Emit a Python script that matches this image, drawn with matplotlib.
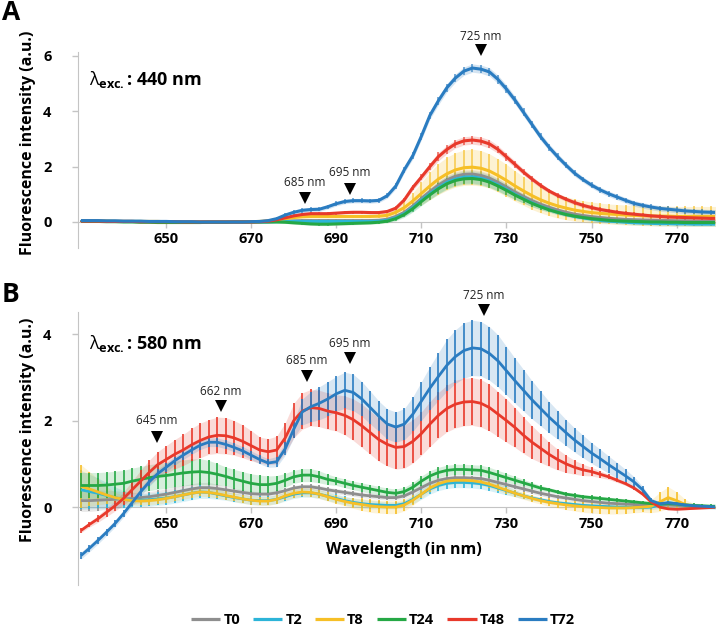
import numpy as np
import matplotlib
matplotlib.use("Agg")
import matplotlib.pyplot as plt

plt.rcParams['font.family'] = ['Open Sans', 'DejaVu Sans']
plt.rcParams['mathtext.fontset'] = 'custom'
plt.rcParams['mathtext.rm'] = 'Open Sans'
plt.rcParams['mathtext.bf'] = 'Open Sans:bold'
plt.rcParams['mathtext.it'] = 'Open Sans'

wavelength = np.arange(630, 781, 2)
series = ['T0', 'T2', 'T8', 'T24', 'T48', 'T72']
colors = {'T0': '#8e8e8e', 'T2': '#2cb4d8', 'T8': '#f6bf26', 'T24': '#25a845',
          'T48': '#e8392b', 'T72': '#2a7cc1'}

# ---------------- Panel A (excitation 440 nm) ----------------
A_T72 = [0.05,0.05,0.05,0.04,0.04,0.03,0.03,0.03,0.02,0.02,
         0.02,0.01,0.01,0.01,0.00,0.00,0.00,0.00,0.00,0.00,
         0.01,0.02,0.05,0.12,0.25,0.35,0.42,0.45,0.46,0.55,
         0.66,0.74,0.77,0.77,0.76,0.78,0.95,1.30,1.89,2.40,
         3.10,3.85,4.38,4.85,5.20,5.45,5.56,5.52,5.42,5.15,
         4.80,4.40,3.96,3.52,3.08,2.70,2.36,2.05,1.76,1.53,
         1.33,1.16,1.02,0.90,0.78,0.67,0.60,0.54,0.49,0.46,
         0.43,0.40,0.38,0.36,0.35,0.34]
A_T48 = [0.03,0.03,0.03,0.02,0.02,0.02,0.02,0.01,0.01,0.01,
         0.01,0.01,0.00,0.00,0.00,0.00,0.00,0.00,0.00,0.00,
         0.00,0.01,0.03,0.08,0.15,0.22,0.27,0.30,0.30,0.30,
         0.32,0.34,0.35,0.35,0.34,0.34,0.38,0.50,0.80,1.25,
         1.62,2.00,2.36,2.62,2.82,2.93,2.96,2.92,2.82,2.62,
         2.35,2.08,1.80,1.55,1.32,1.12,0.96,0.82,0.70,0.60,
         0.52,0.45,0.40,0.35,0.31,0.28,0.25,0.22,0.20,0.18,
         0.17,0.16,0.15,0.14,0.13,0.13]
A_T8 = [0.03,0.03,0.03,0.03,0.02,0.02,0.02,0.02,0.02,0.02,
        0.01,0.01,0.01,0.01,0.01,0.01,0.01,0.01,0.01,0.01,
        0.01,0.02,0.04,0.08,0.12,0.16,0.19,0.20,0.20,0.20,
        0.20,0.20,0.20,0.20,0.20,0.21,0.24,0.35,0.52,0.76,
        1.03,1.30,1.55,1.74,1.88,1.96,1.98,1.94,1.84,1.68,
        1.50,1.30,1.12,0.95,0.80,0.68,0.58,0.50,0.43,0.38,
        0.34,0.31,0.29,0.27,0.25,0.24,0.23,0.22,0.21,0.21,
        0.20,0.20,0.20,0.20,0.20,0.20]
A_T0 = [0.03,0.03,0.03,0.02,0.02,0.02,0.02,0.01,0.01,0.01,
        0.01,0.00,0.00,0.00,0.00,0.00,0.00,0.00,0.00,0.00,
        0.00,0.00,0.01,0.02,0.03,0.04,0.05,0.05,0.05,0.05,
        0.05,0.05,0.05,0.05,0.05,0.06,0.10,0.20,0.35,0.58,
        0.85,1.10,1.33,1.52,1.65,1.72,1.73,1.68,1.58,1.43,
        1.26,1.08,0.92,0.77,0.64,0.53,0.43,0.35,0.28,0.23,
        0.19,0.16,0.13,0.11,0.09,0.08,0.07,0.06,0.05,0.05,
        0.04,0.04,0.03,0.03,0.03,0.03]
A_T2 = [0.04,0.04,0.03,0.03,0.03,0.02,0.02,0.02,0.01,0.01,
        0.01,0.00,0.00,0.00,0.00,0.00,0.00,0.00,0.00,0.00,
        0.00,0.00,0.00,0.01,0.02,0.02,0.02,0.02,0.02,0.02,
        0.02,0.02,0.02,0.02,0.02,0.03,0.06,0.15,0.30,0.52,
        0.78,1.02,1.24,1.43,1.55,1.62,1.63,1.58,1.48,1.34,
        1.17,1.00,0.84,0.69,0.56,0.45,0.35,0.27,0.20,0.15,
        0.10,0.06,0.03,0.01,-0.01,-0.03,-0.04,-0.05,-0.06,-0.06,
        -0.07,-0.07,-0.08,-0.08,-0.08,-0.08]
A_T24 = [0.02,0.02,0.02,0.01,0.01,0.00,0.00,-0.01,-0.01,-0.02,
         -0.02,-0.02,-0.02,-0.02,-0.02,-0.01,-0.01,-0.01,0.00,0.00,
         0.00,0.00,0.00,0.00,-0.01,-0.03,-0.05,-0.07,-0.08,-0.08,
         -0.07,-0.06,-0.05,-0.04,-0.03,-0.01,0.03,0.12,0.27,0.48,
         0.74,0.98,1.20,1.38,1.50,1.56,1.57,1.53,1.44,1.30,
         1.14,0.97,0.82,0.67,0.55,0.44,0.35,0.27,0.21,0.16,
         0.12,0.09,0.06,0.04,0.03,0.02,0.01,0.00,0.00,-0.01,
         -0.01,-0.02,-0.02,-0.02,-0.02,-0.02]

A_E72 = [0.02,0.02,0.02,0.02,0.02,0.02,0.02,0.02,0.02,0.02,
         0.02,0.02,0.02,0.02,0.02,0.02,0.02,0.02,0.02,0.02,
         0.02,0.02,0.03,0.05,0.07,0.08,0.08,0.08,0.08,0.08,
         0.08,0.08,0.08,0.08,0.08,0.08,0.09,0.10,0.11,0.12,
         0.13,0.14,0.15,0.15,0.15,0.15,0.15,0.15,0.15,0.15,
         0.15,0.14,0.14,0.13,0.13,0.12,0.12,0.11,0.11,0.10,
         0.10,0.10,0.10,0.10,0.10,0.10,0.10,0.10,0.10,0.10,
         0.10,0.10,0.10,0.10,0.10,0.10]
A_E48 = [0.02,0.02,0.02,0.02,0.02,0.02,0.02,0.02,0.02,0.02,
         0.02,0.02,0.02,0.02,0.02,0.02,0.02,0.02,0.02,0.02,
         0.02,0.02,0.03,0.04,0.05,0.05,0.05,0.05,0.05,0.05,
         0.05,0.05,0.05,0.05,0.05,0.05,0.06,0.07,0.08,0.10,
         0.12,0.14,0.15,0.15,0.15,0.15,0.15,0.15,0.15,0.14,
         0.13,0.12,0.11,0.10,0.09,0.08,0.08,0.08,0.08,0.08,
         0.08,0.08,0.08,0.08,0.08,0.08,0.08,0.08,0.08,0.08,
         0.08,0.08,0.08,0.08,0.08,0.08]
A_E8 = [0.02,0.02,0.02,0.02,0.02,0.02,0.02,0.02,0.02,0.02,
        0.02,0.02,0.02,0.02,0.02,0.02,0.02,0.02,0.02,0.02,
        0.02,0.02,0.03,0.04,0.05,0.06,0.06,0.06,0.06,0.06,
        0.06,0.06,0.06,0.06,0.06,0.07,0.09,0.12,0.20,0.30,
        0.40,0.50,0.56,0.60,0.62,0.64,0.65,0.64,0.62,0.60,
        0.58,0.55,0.52,0.50,0.47,0.45,0.44,0.42,0.40,0.39,
        0.38,0.37,0.36,0.36,0.36,0.36,0.36,0.36,0.36,0.36,
        0.36,0.36,0.36,0.36,0.36,0.36]
A_E0 = [0.02,0.02,0.02,0.02,0.02,0.02,0.02,0.02,0.02,0.02,
        0.02,0.02,0.02,0.02,0.02,0.02,0.02,0.02,0.02,0.02,
        0.02,0.02,0.02,0.03,0.03,0.04,0.04,0.04,0.04,0.04,
        0.04,0.04,0.04,0.04,0.04,0.04,0.05,0.06,0.08,0.10,
        0.12,0.14,0.15,0.16,0.16,0.16,0.16,0.16,0.16,0.15,
        0.14,0.13,0.12,0.11,0.10,0.09,0.08,0.08,0.08,0.08,
        0.08,0.08,0.08,0.08,0.08,0.08,0.08,0.08,0.08,0.08,
        0.08,0.08,0.08,0.08,0.08,0.08]
A_E2 = [0.02,0.02,0.02,0.02,0.02,0.02,0.02,0.02,0.02,0.02,
        0.02,0.02,0.02,0.02,0.02,0.02,0.02,0.02,0.02,0.02,
        0.02,0.02,0.02,0.03,0.03,0.04,0.04,0.04,0.04,0.04,
        0.04,0.04,0.04,0.04,0.04,0.04,0.05,0.07,0.10,0.13,
        0.16,0.19,0.21,0.22,0.22,0.22,0.22,0.22,0.22,0.21,
        0.20,0.18,0.16,0.14,0.12,0.10,0.09,0.08,0.08,0.08,
        0.08,0.08,0.08,0.08,0.08,0.08,0.08,0.08,0.08,0.08,
        0.08,0.08,0.08,0.08,0.08,0.08]
A_E24 = [0.02,0.02,0.02,0.02,0.02,0.02,0.02,0.02,0.02,0.02,
         0.02,0.02,0.02,0.02,0.02,0.02,0.02,0.02,0.02,0.02,
         0.02,0.02,0.02,0.03,0.04,0.05,0.05,0.05,0.05,0.05,
         0.05,0.05,0.05,0.05,0.05,0.05,0.06,0.08,0.10,0.12,
         0.15,0.17,0.19,0.20,0.20,0.20,0.20,0.20,0.20,0.19,
         0.18,0.16,0.14,0.12,0.10,0.08,0.07,0.06,0.05,0.05,
         0.05,0.05,0.05,0.05,0.05,0.05,0.05,0.05,0.05,0.05,
         0.05,0.05,0.05,0.05,0.05,0.05]

# ---------------- Panel B (excitation 580 nm) ----------------
B_T72 = [-1.12,-0.95,-0.77,-0.58,-0.38,-0.15,0.10,0.35,0.58,0.77,
         0.92,1.07,1.20,1.32,1.43,1.50,1.50,1.45,1.38,1.30,
         1.20,1.10,1.02,1.05,1.35,1.80,2.20,2.32,2.40,2.50,
         2.62,2.70,2.65,2.50,2.30,2.10,1.92,1.85,1.92,2.15,
         2.45,2.75,3.02,3.28,3.48,3.62,3.68,3.66,3.55,3.38,
         3.15,2.92,2.70,2.48,2.28,2.08,1.90,1.72,1.55,1.40,
         1.25,1.12,0.98,0.85,0.72,0.58,0.40,0.15,0.08,0.10,
         0.08,0.05,0.03,0.02,0.01,0.00]
B_T48 = [-0.54,-0.40,-0.27,-0.12,0.03,0.20,0.40,0.60,0.80,0.98,
         1.10,1.22,1.32,1.44,1.54,1.62,1.66,1.65,1.60,1.52,
         1.42,1.32,1.28,1.32,1.60,2.00,2.22,2.30,2.28,2.22,
         2.18,2.12,2.02,1.88,1.72,1.56,1.45,1.38,1.40,1.52,
         1.70,1.92,2.12,2.28,2.38,2.43,2.44,2.40,2.30,2.15,
         2.00,1.84,1.66,1.50,1.36,1.22,1.10,1.00,0.92,0.86,
         0.82,0.76,0.70,0.62,0.54,0.44,0.30,0.12,0.00,-0.04,
         -0.05,-0.04,-0.03,-0.02,-0.01,0.00]
B_T24 = [0.50,0.50,0.50,0.51,0.53,0.55,0.60,0.64,0.68,0.71,
         0.73,0.76,0.79,0.81,0.82,0.80,0.76,0.71,0.65,0.60,
         0.55,0.52,0.52,0.55,0.62,0.70,0.74,0.74,0.70,0.64,
         0.60,0.55,0.50,0.46,0.42,0.38,0.34,0.32,0.36,0.46,
         0.60,0.72,0.80,0.85,0.87,0.87,0.86,0.85,0.80,0.74,
         0.68,0.62,0.56,0.50,0.44,0.40,0.35,0.30,0.27,0.24,
         0.22,0.20,0.18,0.16,0.14,0.12,0.10,0.08,0.07,0.08,
         0.07,0.05,0.04,0.03,0.02,0.02]
B_T0 = [0.15,0.15,0.16,0.17,0.18,0.19,0.20,0.22,0.24,0.27,
        0.30,0.34,0.38,0.42,0.45,0.45,0.43,0.40,0.37,0.34,
        0.31,0.30,0.30,0.33,0.38,0.44,0.47,0.47,0.44,0.40,
        0.37,0.34,0.31,0.28,0.26,0.24,0.22,0.22,0.26,0.35,
        0.45,0.55,0.62,0.66,0.68,0.68,0.67,0.66,0.62,0.57,
        0.52,0.47,0.42,0.37,0.32,0.28,0.24,0.21,0.18,0.15,
        0.13,0.11,0.09,0.08,0.07,0.06,0.05,0.04,0.04,0.05,
        0.04,0.03,0.02,0.01,0.01,0.00]
B_T2 = [0.40,0.36,0.32,0.27,0.22,0.18,0.16,0.16,0.17,0.19,
        0.21,0.24,0.28,0.32,0.35,0.34,0.30,0.26,0.22,0.19,
        0.16,0.15,0.15,0.18,0.24,0.30,0.33,0.33,0.30,0.25,
        0.20,0.15,0.11,0.08,0.06,0.05,0.04,0.04,0.08,0.18,
        0.30,0.42,0.50,0.55,0.57,0.57,0.56,0.54,0.50,0.44,
        0.38,0.32,0.26,0.21,0.17,0.13,0.10,0.08,0.06,0.04,
        0.03,0.02,0.01,0.00,0.00,-0.01,-0.01,0.00,0.05,0.10,
        0.08,0.04,0.02,0.01,0.00,0.00]
B_T8 = [0.48,0.42,0.35,0.28,0.22,0.18,0.15,0.14,0.15,0.17,
        0.20,0.24,0.28,0.32,0.35,0.34,0.31,0.27,0.23,0.19,
        0.16,0.14,0.14,0.18,0.26,0.32,0.35,0.34,0.30,0.24,
        0.18,0.13,0.09,0.06,0.03,0.01,0.00,0.00,0.05,0.16,
        0.30,0.44,0.54,0.60,0.62,0.62,0.61,0.58,0.53,0.46,
        0.39,0.32,0.26,0.20,0.15,0.11,0.08,0.05,0.03,0.01,
        0.00,-0.01,-0.02,-0.02,-0.02,-0.01,0.00,0.02,0.12,0.22,
        0.15,0.06,0.02,0.01,0.00,0.00]

B_E72 = [0.08,0.08,0.08,0.08,0.08,0.08,0.08,0.09,0.10,0.10,
         0.10,0.10,0.10,0.10,0.10,0.10,0.10,0.10,0.10,0.10,
         0.10,0.10,0.10,0.12,0.15,0.20,0.30,0.35,0.38,0.40,
         0.40,0.42,0.42,0.40,0.38,0.35,0.35,0.35,0.36,0.40,
         0.45,0.50,0.55,0.60,0.62,0.64,0.64,0.63,0.62,0.60,
         0.56,0.52,0.48,0.44,0.40,0.36,0.33,0.30,0.28,0.26,
         0.24,0.22,0.20,0.18,0.15,0.12,0.08,0.05,0.05,0.04,
         0.03,0.02,0.02,0.02,0.02,0.02]
B_E48 = [0.05,0.06,0.08,0.10,0.12,0.15,0.20,0.25,0.28,0.30,
         0.32,0.34,0.36,0.38,0.40,0.40,0.42,0.42,0.40,0.38,
         0.35,0.30,0.30,0.32,0.35,0.40,0.42,0.42,0.42,0.42,
         0.42,0.45,0.48,0.50,0.50,0.50,0.50,0.50,0.50,0.50,
         0.50,0.52,0.53,0.54,0.55,0.55,0.55,0.55,0.54,0.52,
         0.50,0.46,0.42,0.38,0.33,0.28,0.24,0.20,0.16,0.13,
         0.10,0.08,0.06,0.05,0.04,0.04,0.03,0.03,0.02,0.02,
         0.02,0.02,0.02,0.02,0.02,0.02]
B_E24 = [0.30,0.30,0.30,0.30,0.30,0.30,0.30,0.30,0.30,0.30,
         0.30,0.30,0.30,0.30,0.30,0.28,0.25,0.22,0.22,0.22,
         0.22,0.22,0.20,0.18,0.16,0.15,0.15,0.15,0.14,0.12,
         0.10,0.10,0.10,0.10,0.10,0.10,0.10,0.10,0.10,0.11,
         0.12,0.12,0.12,0.12,0.12,0.12,0.12,0.12,0.12,0.11,
         0.10,0.09,0.08,0.07,0.06,0.05,0.05,0.05,0.05,0.05,
         0.05,0.05,0.05,0.05,0.05,0.05,0.05,0.05,0.05,0.05,
         0.05,0.05,0.05,0.05,0.05,0.05]
B_E0 = [0.25,0.25,0.24,0.22,0.20,0.17,0.14,0.12,0.12,0.12,
        0.12,0.12,0.12,0.12,0.12,0.12,0.10,0.08,0.07,0.06,
        0.06,0.06,0.06,0.06,0.06,0.06,0.06,0.06,0.06,0.06,
        0.06,0.06,0.06,0.06,0.06,0.06,0.06,0.06,0.06,0.06,
        0.06,0.06,0.06,0.06,0.06,0.06,0.06,0.06,0.06,0.06,
        0.06,0.06,0.06,0.06,0.06,0.06,0.05,0.05,0.05,0.05,
        0.04,0.04,0.04,0.04,0.04,0.04,0.04,0.04,0.04,0.04,
        0.04,0.04,0.04,0.04,0.04,0.04]
B_E2 = [0.45,0.40,0.35,0.30,0.25,0.20,0.15,0.15,0.15,0.15,
        0.15,0.15,0.15,0.15,0.15,0.14,0.12,0.10,0.10,0.10,
        0.10,0.10,0.10,0.10,0.10,0.10,0.10,0.10,0.10,0.10,
        0.10,0.10,0.10,0.10,0.10,0.09,0.08,0.08,0.08,0.10,
        0.12,0.12,0.12,0.12,0.12,0.12,0.12,0.12,0.12,0.11,
        0.10,0.08,0.07,0.06,0.05,0.05,0.05,0.05,0.05,0.05,
        0.05,0.05,0.05,0.05,0.05,0.05,0.05,0.06,0.08,0.10,
        0.08,0.06,0.05,0.05,0.05,0.05]
B_E8 = [0.50,0.40,0.30,0.20,0.12,0.10,0.10,0.10,0.10,0.10,
        0.10,0.10,0.10,0.10,0.10,0.10,0.10,0.10,0.10,0.10,
        0.10,0.10,0.10,0.10,0.10,0.10,0.10,0.10,0.10,0.10,
        0.10,0.10,0.12,0.14,0.15,0.15,0.15,0.15,0.14,0.12,
        0.10,0.08,0.08,0.08,0.08,0.08,0.08,0.08,0.08,0.08,
        0.08,0.08,0.08,0.08,0.08,0.09,0.10,0.11,0.12,0.13,
        0.14,0.14,0.14,0.14,0.13,0.12,0.12,0.15,0.22,0.25,
        0.20,0.12,0.06,0.04,0.03,0.03]

panelA = {'T0': (A_T0, A_E0), 'T2': (A_T2, A_E2), 'T8': (A_T8, A_E8),
          'T24': (A_T24, A_E24), 'T48': (A_T48, A_E48), 'T72': (A_T72, A_E72)}
panelB = {'T0': (B_T0, B_E0), 'T2': (B_T2, B_E2), 'T8': (B_T8, B_E8),
          'T24': (B_T24, B_E24), 'T48': (B_T48, B_E48), 'T72': (B_T72, B_E72)}

peaksA = [('685 nm', 682.6, 1.41, 0.87), ('695 nm', 693.2, 1.77, 1.19),
          ('725 nm', 724.0, 6.69, 6.22)]
peaksB = [('645 nm', 647.9, 2.01, 1.62), ('662 nm', 662.9, 2.68, 2.34),
          ('685 nm', 683.1, 3.40, 3.03), ('695 nm', 693.2, 3.79, 3.45),
          ('725 nm', 724.7, 4.90, 4.55)]

W, H = 720, 626
fig = plt.figure(figsize=(W / 100, H / 100), dpi=100)
axA = fig.add_axes([78 / W, 1 - 248 / H, 637 / W, 196 / H])
axB = fig.add_axes([78 / W, 1 - 585 / H, 637 / W, 273 / H])

spine_col = '#c4c4c4'


def draw(ax, data, lw_line, bar_lw, bar_alpha, band_alpha):
    x = wavelength
    for s in series:
        m, e = data[s]
        m = np.array(m); e = np.array(e)
        ax.fill_between(x, m - e, m + e, color=colors[s], alpha=band_alpha, lw=0, zorder=1)
    for s in series:
        m, e = data[s]
        m = np.array(m); e = np.array(e)
        ax.vlines(x, m - e, m + e, color=colors[s], lw=bar_lw, alpha=bar_alpha, zorder=2)
    for s in series:
        m, e = data[s]
        ax.plot(x, m, color=colors[s], lw=lw_line, zorder=3, label=s, solid_capstyle='butt')


def style(ax, ylim, yticks):
    ax.set_xlim(629.3, 779)
    ax.set_ylim(*ylim)
    ax.set_yticks(yticks)
    ax.set_xticks([650, 670, 690, 710, 730, 750, 770])
    for sp in ['top', 'right']:
        ax.spines[sp].set_visible(False)
    ax.spines['left'].set_color(spine_col)
    ax.spines['bottom'].set_color(spine_col)
    ax.spines['bottom'].set_position(('data', 0))
    ax.spines['bottom'].set_zorder(0.5)
    ax.tick_params(axis='both', colors=spine_col, length=4, width=1, labelcolor='black',
                   labelsize=10.5)
    ax.tick_params(axis='x', pad=3)
    ax.tick_params(axis='y', pad=15)
    for lab in ax.get_xticklabels() + ax.get_yticklabels():
        lab.set_fontweight('bold')
    ax.set_facecolor('none')


draw(axA, panelA, 2.2, 1.1, 0.8, 0.2)
draw(axB, panelB, 2.0, 1.4, 0.85, 0.18)
style(axA, (-0.94, 6.14), [0, 2, 4, 6])
style(axB, (-1.8, 4.51), [0, 2, 4])

for ax, peaks in ((axA, peaksA), (axB, peaksB)):
    for lab, xw, yt, ym in peaks:
        ax.text(xw, yt, lab, ha='center', va='center', fontsize=8.5, color='#222222',
                clip_on=False, zorder=5)
        ax.plot([xw], [ym], marker='v', color='black', markersize=9, clip_on=False, zorder=5,
                markeredgewidth=0)

axA.text(0.018, 0.86, r'$\lambda_{\mathbf{exc.}}$: 440 nm', transform=axA.transAxes,
         fontsize=13, fontweight='bold', va='center', ha='left')
axB.text(0.018, 0.885, r'$\lambda_{\mathbf{exc.}}$: 580 nm', transform=axB.transAxes,
         fontsize=13, fontweight='bold', va='center', ha='left')

fig.text(2 / W, 1 - 12 / H, 'A', fontsize=19, fontweight='bold', va='center', ha='left')
fig.text(2 / W, 1 - 294 / H, 'B', fontsize=19, fontweight='bold', va='center', ha='left')

fig.text(28 / W, 1 - 143 / H, 'Fluorescence intensity (a.u.)', rotation=90, fontsize=11.5,
         fontweight='bold', va='center', ha='center')
fig.text(28 / W, 1 - 430 / H, 'Fluorescence intensity (a.u.)', rotation=90, fontsize=11.5,
         fontweight='bold', va='center', ha='center')
fig.text(404 / W, 1 - 550 / H, 'Wavelength (in nm)', fontsize=11.5, fontweight='bold',
         va='center', ha='center')

handles, labels = axB.get_legend_handles_labels()
leg = fig.legend(handles, labels, loc='center', bbox_to_anchor=(383 / W, 1 - 620 / H),
                 ncol=6, frameon=False, handlelength=2.0, columnspacing=0.9, handletextpad=0.2,
                 prop={'weight': 'bold', 'size': 10.5})
for l in leg.get_lines():
    l.set_linewidth(2.3)

fig.savefig('out.png', dpi=100)
